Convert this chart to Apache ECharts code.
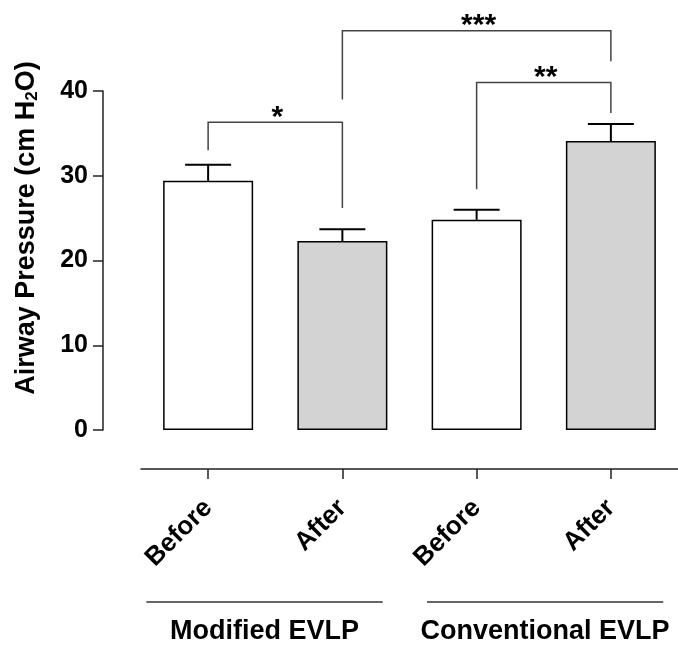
<!DOCTYPE html>
<html>
<head>
<meta charset="utf-8">
<script src="https://cdn.jsdelivr.net/npm/echarts@6/dist/echarts.min.js"></script>
<style>
  html, body { margin: 0; padding: 0; background: #fff; }
  #chart { width: 678px; height: 654px; }
</style>
</head>
<body>
<div id="chart"></div>
<script>
const categories = ['Before', 'After', 'Before', 'After'];
const means = [29.4, 22.3, 24.8, 34.1];
const sems = [1.9, 1.4, 1.2, 2.0];
const isAfter = [false, true, false, true];

// group labels under the axis (span in category units)
const groups = ['Modified EVLP', 'Conventional EVLP'];
const groupStart = [-0.46, 1.63];
const groupEnd = [1.30, 3.39];

// significance brackets
const bracketFrom = [0, 1, 2];
const bracketTo = [1, 3, 3];
const bracketTop = [36.3, 47.1, 41.0];
const bracketLeftEnd = [33.0, 39.0, 28.4];
const bracketRightEnd = [26.2, 43.5, 37.4];
const bracketMarks = ['*', '***', '**'];

const yTicks = { min: 0, max: 40, step: 10 };

const FONT = 'Liberation Sans, Arial, Helvetica, sans-serif';

const chart = echarts.init(document.getElementById('chart'));

const barData = means.map((v, i) => ({
  value: v,
  itemStyle: { color: isAfter[i] ? '#d3d3d3' : '#ffffff' }
}));

const errData = means.map((v, i) => [i, v, sems[i]]);

const bracketData = bracketMarks.map((m, i) => [
  bracketFrom[i], bracketTo[i], bracketTop[i], bracketLeftEnd[i], bracketRightEnd[i], i
]);

const groupData = groups.map((g, i) => [groupStart[i], groupEnd[i], i]);

const option = {
  backgroundColor: '#ffffff',
  animation: false,
  grid: { left: 141, right: 0, top: 91, bottom: 224 },
  xAxis: {
    type: 'category',
    data: categories,
    offset: 39,
    axisLine: { show: true, onZero: false, lineStyle: { color: '#222', width: 1.5 } },
    axisTick: { show: true, alignWithLabel: true, length: 10, lineStyle: { color: '#222', width: 1.5 } },
    axisLabel: {
      rotate: 45, margin: 35, color: '#000',
      fontFamily: FONT, fontWeight: 'bold', fontSize: 26
    },
    splitLine: { show: false }
  },
  yAxis: {
    type: 'value',
    min: yTicks.min, max: yTicks.max, interval: yTicks.step,
    offset: 38,
    axisLine: { show: true, lineStyle: { color: '#222', width: 1.5 } },
    axisTick: { show: true, length: 10, lineStyle: { color: '#222', width: 1.5 } },
    axisLabel: {
      margin: 15, color: '#000',
      fontFamily: FONT, fontWeight: 'bold', fontSize: 25
    },
    splitLine: { show: false }
  },
  graphic: [{
    type: 'text',
    x: 27, y: 228,
    rotation: Math.PI / 2,
    style: {
      text: 'Airway Pressure (cm H{sub|2}O)',
      fill: '#000',
      fontFamily: FONT, fontWeight: 'bold', fontSize: 27,
      align: 'center', verticalAlign: 'middle',
      rich: {
        sub: { fontFamily: FONT, fontWeight: 'bold', fontSize: 17, fill: '#000',
               verticalAlign: 'bottom', padding: [11, 0, 0, 0] }
      }
    }
  }],
  series: [
    {
      type: 'bar',
      data: barData,
      barWidth: 90,
      itemStyle: { borderColor: '#000', borderWidth: 1.5 },
      z: 2
    },
    {
      type: 'custom',
      data: errData,
      z: 3,
      renderItem: function (params, api) {
        const top = api.coord([api.value(0), api.value(1) + api.value(2)]);
        const base = api.coord([api.value(0), api.value(1)]);
        const half = 23;
        return {
          type: 'group',
          children: [
            { type: 'line', shape: { x1: base[0], y1: base[1], x2: top[0], y2: top[1] },
              style: { stroke: '#000', lineWidth: 2 } },
            { type: 'line', shape: { x1: top[0] - half, y1: top[1], x2: top[0] + half, y2: top[1] },
              style: { stroke: '#000', lineWidth: 2 } }
          ]
        };
      }
    },
    {
      type: 'custom',
      data: bracketData,
      clip: false,
      z: 4,
      renderItem: function (params, api) {
        const a = api.value(0), b = api.value(1);
        const topL = api.coord([a, api.value(2)]);
        const topR = api.coord([b, api.value(2)]);
        const endL = api.coord([a, api.value(3)]);
        const endR = api.coord([b, api.value(4)]);
        const mark = bracketMarks[api.value(5)];
        return {
          type: 'group',
          children: [
            { type: 'polyline',
              shape: { points: [[endL[0], endL[1]], [topL[0], topL[1]], [topR[0], topR[1]], [endR[0], endR[1]]] },
              style: { stroke: '#444', lineWidth: 1.5, fill: null } },
            { type: 'text',
              style: { text: mark, x: (topL[0] + topR[0]) / 2 + 2, y: topL[1] + 10,
                       fill: '#000', font: 'bold 30px ' + FONT,
                       align: 'center', verticalAlign: 'bottom',
                       textAlign: 'center', textVerticalAlign: 'bottom' } }
          ]
        };
      }
    },
    {
      type: 'custom',
      data: groupData,
      clip: false,
      z: 4,
      renderItem: function (params, api) {
        // category axis rounds fractional values, so offset from the first band centre
        const bw = api.size([1, 0])[0];
        const c0 = api.coord([0, -20.3]);
        const x1 = c0[0] + api.value(0) * bw;
        const x2 = c0[0] + api.value(1) * bw;
        const y = c0[1];
        const label = groups[api.value(2)];
        return {
          type: 'group',
          children: [
            { type: 'line', shape: { x1: x1, y1: y, x2: x2, y2: y },
              style: { stroke: '#333', lineWidth: 1.5 } },
            { type: 'text',
              style: { text: label, x: (x1 + x2) / 2, y: y + 30,
                       fill: '#000', font: 'bold 27px ' + FONT,
                       align: 'center', verticalAlign: 'middle',
                       textAlign: 'center', textVerticalAlign: 'middle' } }
          ]
        };
      }
    }
  ]
};

chart.setOption(option);
</script>
</body>
</html>
